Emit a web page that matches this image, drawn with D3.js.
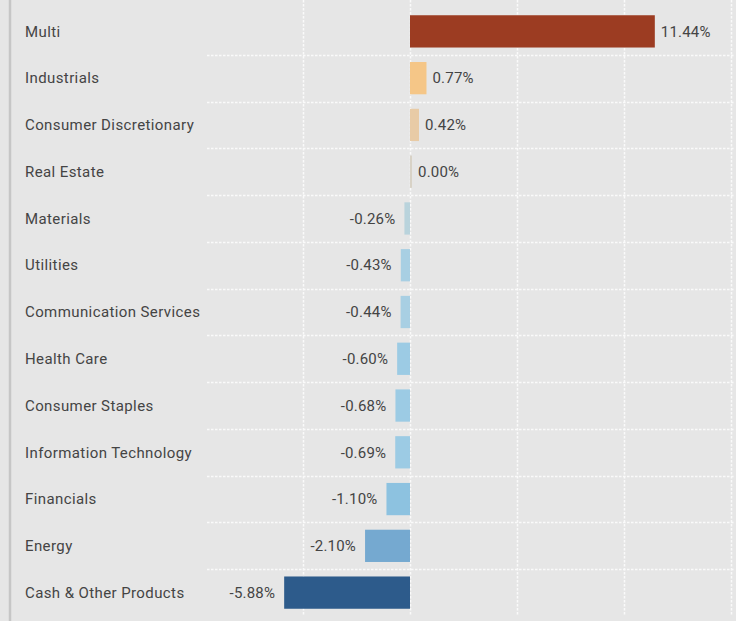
<!DOCTYPE html>
<html>
<head>
<meta charset="utf-8">
<script src="https://cdn.jsdelivr.net/npm/d3@7"></script>
<style>
  html, body { margin: 0; padding: 0; background: #e6e6e6; }
  svg { display: block; font-family: Roboto, "Noto Sans", sans-serif; }
</style>
</head>
<body>
<svg id="chart" width="736" height="621"></svg>
<script>
// sector names, top to bottom
const sectors = [
  "Multi", "Industrials", "Consumer Discretionary", "Real Estate", "Materials",
  "Utilities", "Communication Services", "Health Care", "Consumer Staples",
  "Information Technology", "Financials", "Energy", "Cash & Other Products"
];
// active weight (%)
const weights = [11.44, 0.77, 0.42, 0.0, -0.26, -0.43, -0.44, -0.6, -0.68, -0.69, -1.1, -2.1, -5.88];
const gridTicks = [-5, 0, 5, 10, 15];
const palette = [
  "#9c3c22", "#f5c687", "#e8cba6", "#d8d2c6", "#b9d3dc", "#a8cfe3", "#a8cfe3",
  "#9ccbe4", "#9ccbe4", "#9ccbe4", "#8dc2e0", "#75a9d0", "#2d5b8b"
];

var svg = d3.select("#chart"),
  width = +svg.attr("width"),
  height = +svg.attr("height");

var x = d3.scaleLinear().domain([-5, 15]).range([303, 731]);
var y = d3.scaleBand().domain(sectors).range([8, 616]).paddingInner(0.31).paddingOuter(0.155);

svg.append("rect").attr("width", width).attr("height", height).attr("fill", "#e6e6e6");

// left edge
svg.append("line")
  .attr("x1", 10).attr("x2", 10).attr("y1", 0).attr("y2", height)
  .attr("stroke", "#c6c6c6").attr("stroke-width", 2.5);

// horizontal row separators
var step = y.step();
svg.append("g")
  .selectAll("line")
  .data(sectors.slice(1))
  .enter()
  .append("line")
  .attr("x1", 207).attr("x2", 734)
  .attr("y1", (d) => Math.round(y(d) - step * 0.155) + 0.5)
  .attr("y2", (d) => Math.round(y(d) - step * 0.155) + 0.5)
  .attr("stroke", "#fafafa").attr("stroke-width", 1.5).attr("stroke-dasharray", "2.5,1.5");

// vertical gridlines
svg.append("g")
  .selectAll("line")
  .data(gridTicks)
  .enter()
  .append("line")
  .attr("x1", (d) => Math.round(x(d)) + 0.5)
  .attr("x2", (d) => Math.round(x(d)) + 0.5)
  .attr("y1", 0).attr("y2", 615)
  .attr("stroke", "#fafafa").attr("stroke-width", 1.5).attr("stroke-dasharray", "2.5,1.5");

// bars
svg.append("g")
  .selectAll("rect")
  .data(sectors)
  .enter()
  .append("rect")
  .attr("x", (d, i) => x(Math.min(0, weights[i])))
  .attr("y", (d) => y(d))
  .attr("width", (d, i) => Math.max(2, Math.abs(x(weights[i]) - x(0))))
  .attr("height", y.bandwidth())
  .attr("fill", (d, i) => palette[i]);

// sector labels
svg.append("g")
  .selectAll("text")
  .data(sectors)
  .enter()
  .append("text")
  .attr("x", 25)
  .attr("y", (d) => y(d) + y.bandwidth() / 2)
  .attr("dy", "0.35em")
  .attr("fill", "#444")
  .style("font-size", "15px")
  .style("letter-spacing", "0.4px")
  .text((d) => d);

// value labels
svg.append("g")
  .selectAll("text")
  .data(sectors)
  .enter()
  .append("text")
  .attr("x", (d, i) => weights[i] < 0 ? x(weights[i]) - 9 : Math.max(x(weights[i]), x(0) + 2) + 6)
  .attr("y", (d) => y(d) + y.bandwidth() / 2)
  .attr("dy", "0.35em")
  .attr("text-anchor", (d, i) => weights[i] < 0 ? "end" : "start")
  .attr("fill", "#444")
  .style("font-size", "15px")
  .style("letter-spacing", "0.2px")
  .text((d, i) => weights[i].toFixed(2) + "%");
</script>
</body>
</html>
